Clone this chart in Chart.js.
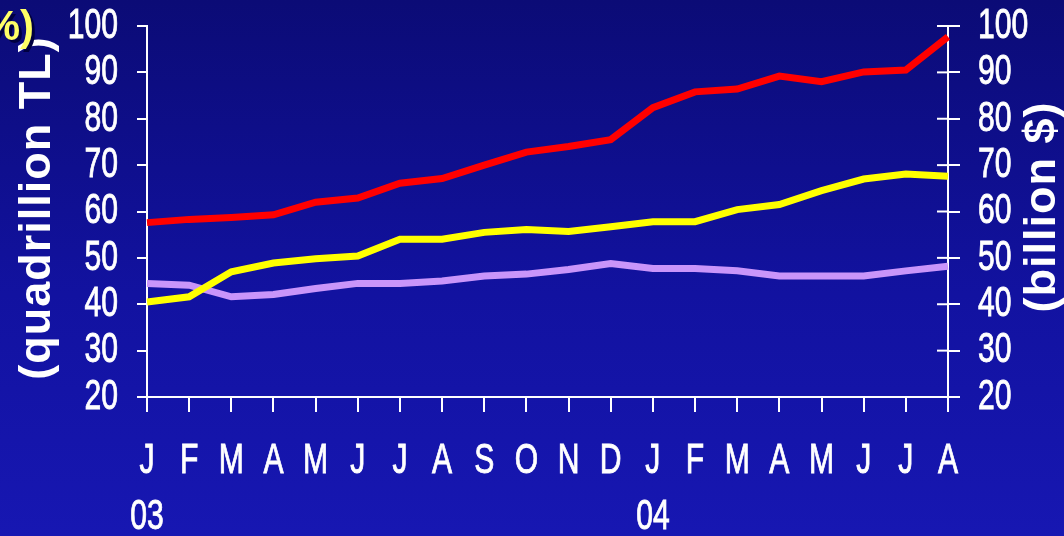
<!DOCTYPE html>
<html>
<head>
<meta charset="utf-8">
<script src="https://cdn.jsdelivr.net/npm/chart.js@4/dist/chart.umd.min.js"></script>
<style>
    html, body { margin: 0; padding: 0; }
    body {
        width: 1064px;
        height: 536px;
        overflow: hidden;
        background: linear-gradient(to bottom, #0b0b76 0%, #1212a0 55%, #1717b2 100%);
    }
    canvas { display: block; }
</style>
</head>
<body>
<canvas id="chart" width="1064" height="536"></canvas>
<script>
// month labels, Jan 2003 - Aug 2004
const months = ['J', 'F', 'M', 'A', 'M', 'J', 'J', 'A', 'S', 'O', 'N', 'D',
                'J', 'F', 'M', 'A', 'M', 'J', 'J', 'A']
const years = ['03', '', '', '', '', '', '', '', '', '', '', '',
               '04', '', '', '', '', '', '', '']

// values
const redSeries = [57.6, 58.3, 58.7, 59.3, 62.0, 62.9, 66.1, 67.1, 70.0, 72.8,
                   74.0, 75.5, 82.4, 85.8, 86.4, 89.2, 88.0, 90.1, 90.5, 97.7]
const yellowSeries = [40.5, 41.6, 47.0, 48.9, 49.8, 50.4, 54.0, 54.0, 55.5, 56.1,
                      55.7, 56.7, 57.8, 57.8, 60.4, 61.5, 64.5, 67.0, 68.1, 67.6]
const purpleSeries = [44.5, 44.1, 41.6, 42.1, 43.4, 44.5, 44.5, 45.0, 46.1, 46.5,
                      47.5, 48.8, 47.7, 47.7, 47.2, 46.1, 46.1, 46.1, 47.2, 48.2]

const yMin = 20
const yMax = 100
const yStep = 10

const labelFont = "43px 'Liberation Sans', Arial, sans-serif"
const boldFont = "'Liberation Sans', Arial, sans-serif"
const squeeze = 0.7 // no narrow font installed, so squash the normal one

// draw a horizontally squeezed label (like Arial Narrow)
function narrowText(ctx, text, x, y, align) {
    ctx.save()
    ctx.translate(x, y)
    ctx.scale(squeeze, 1)
    ctx.font = labelFont
    ctx.fillStyle = '#ffffff'
    ctx.strokeStyle = '#ffffff'
    ctx.lineWidth = 0.9
    ctx.textAlign = align
    ctx.textBaseline = 'middle'
    ctx.fillText(text, 0, 0)
    ctx.strokeText(text, 0, 0) // a bit heavier, the squeeze thins the strokes
    ctx.restore()
}

// tick labels, axis titles, the cut "(%)" and the inner half of the right ticks
const decorPlugin = {
    id: 'decor',
    afterDraw(chart) {
        const ctx = chart.ctx
        const area = chart.chartArea
        const xs = chart.scales.x
        const left = chart.scales.y
        const right = chart.scales.y2

        // right axis ticks cross the line
        ctx.save()
        ctx.strokeStyle = '#ffffff'
        ctx.lineWidth = 2
        right.ticks.forEach((t, i) => {
            const y = right.getPixelForTick(i)
            ctx.beginPath()
            ctx.moveTo(area.right - 11, y)
            ctx.lineTo(area.right, y)
            ctx.stroke()
        })
        ctx.restore()

        // y tick labels on both sides
        left.ticks.forEach((t, i) => {
            narrowText(ctx, String(t.value), area.left - 29, left.getPixelForTick(i), 'right')
        })
        right.ticks.forEach((t, i) => {
            narrowText(ctx, String(t.value), area.right + 30, right.getPixelForTick(i), 'left')
        })

        // month letters and years under the x axis
        xs.ticks.forEach((t, i) => {
            const x = xs.getPixelForTick(i)
            narrowText(ctx, months[i], x, area.bottom + 64, 'center')
            if (years[i]) narrowText(ctx, years[i], x, area.bottom + 120, 'center')
        })

        // rotated axis titles
        const drawVertical = (text, x, y) => {
            ctx.save()
            ctx.translate(x, y)
            ctx.rotate(-Math.PI / 2)
            ctx.font = 'bold 45px ' + boldFont
            ctx.letterSpacing = '1px'
            ctx.fillStyle = '#ffffff'
            ctx.textAlign = 'center'
            ctx.textBaseline = 'middle'
            ctx.fillText(text, 0, 0)
            ctx.restore()
        }
        drawVertical('(quadrillion TL)', 38, 208)
        drawVertical('(billion $)', 1043, 207)

        // yellow "(%)" peeking in at the top left corner
        ctx.save()
        ctx.font = 'bold 42px ' + boldFont
        ctx.fillStyle = '#000040'
        ctx.textAlign = 'right'
        ctx.textBaseline = 'middle'
        ctx.fillText('(%)', 37, 31)
        ctx.fillStyle = '#ffff66'
        ctx.fillText('(%)', 34, 28)
        ctx.restore()
    }
}

function makeLine(label, data, color) {
    return {
        label: label,
        data: data,
        borderColor: color,
        backgroundColor: color,
        borderWidth: 7,
        pointRadius: 0,
        tension: 0,
        fill: false,
        borderJoinStyle: 'miter',
        yAxisID: 'y'
    }
}

// chart.js labels are hidden, they are drawn squeezed by the plugin
const hiddenTicks = {
    color: 'rgba(0,0,0,0)',
    font: { size: 20 },
    stepSize: yStep,
    autoSkip: false,
    maxRotation: 0
}

const ctx = document.getElementById('chart').getContext('2d')
const myChart = new Chart(ctx, {
    type: 'line',
    data: {
        labels: months,
        datasets: [
            makeLine('red', redSeries, '#ff0000'),
            makeLine('yellow', yellowSeries, '#ffff00'),
            makeLine('purple', purpleSeries, '#c995fa')
        ]
    },
    options: {
        responsive: false,
        animation: false,
        layout: { padding: { top: 26, left: 0, right: 0, bottom: 0 } },
        plugins: {
            legend: { display: false },
            tooltip: { enabled: false }
        },
        scales: {
            x: {
                type: 'category',
                position: 'bottom',
                offset: false,
                grid: { drawOnChartArea: false, color: '#ffffff', lineWidth: 2, tickLength: 15 },
                border: { color: '#ffffff', width: 2 },
                ticks: hiddenTicks,
                afterFit: s => { s.height = 139 }
            },
            y: {
                position: 'left',
                min: yMin,
                max: yMax,
                grid: { drawOnChartArea: false, color: '#ffffff', lineWidth: 2, tickLength: 10 },
                border: { color: '#ffffff', width: 2 },
                ticks: hiddenTicks,
                afterFit: s => { s.width = 147 }
            },
            y2: {
                position: 'right',
                min: yMin,
                max: yMax,
                grid: { drawOnChartArea: false, color: '#ffffff', lineWidth: 2, tickLength: 12 },
                border: { color: '#ffffff', width: 2 },
                ticks: hiddenTicks,
                afterFit: s => { s.width = 116 }
            }
        }
    },
    plugins: [decorPlugin]
})
</script>
</body>
</html>
